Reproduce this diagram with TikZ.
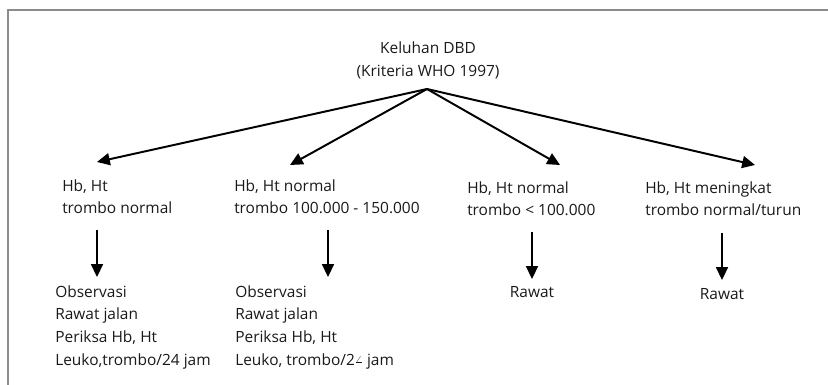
\documentclass[tikz,border=0pt]{standalone}
\usepackage{fontspec}
\setmainfont{Open Sans}
\usetikzlibrary{arrows.meta}

\begin{document}
\begin{tikzpicture}[every node/.style={inner sep=0pt, align=left, text=black!90, font=\fontsize{11}{16.2}\selectfont}]
%[line width=1pt]
\useasboundingbox (0,0) rectangle (20.7,-9.625);
\draw[black!45, line width=1.3pt] (0.2,-9.625) -- (0.2,-0.25) -- (20.7,-0.25);

\path (10.7,-1.5) node (K) [align=center] {Keluhan DBD\\(Kriteria WHO 1997)};
\coordinate (apex) at (10.675,-2.225);

\path (1.55,-4.475) node (B1) [anchor=north west] {Hb, Ht\\trombo normal};
\path (5.85,-4.475) node (B2) [anchor=north west] {Hb, Ht normal\\trombo 100.000 - 150.000};
\path (11.675,-4.525) node (B3) [anchor=north west] {Hb, Ht normal\\trombo < 100.000};
\path (16.125,-4.525) node (B4) [anchor=north west] {Hb, Ht meningkat\\trombo normal/turun};

\path (1.375,-7.125) node (C1) [anchor=north west] {Observasi\\Rawat jalan\\Periksa Hb, Ht\\Leuko,trombo/24 jam};
\path (5.875,-7.125) node (C2) [anchor=north west] {Observasi\\Rawat jalan\\Periksa Hb, Ht\\Leuko, trombo/2\raisebox{0.3ex}{\scriptsize$\angle$} jam};
\path (13.3,-7.15) node (C3) [anchor=north] {Rawat};
\path (18.05,-7.2) node (C4) [anchor=north] {Rawat};

% arrow tips above the second row
\coordinate (t1) at (2.425,-4.05);
\coordinate (t2) at (7.25,-4.125);
\coordinate (t3) at (14.0,-4.125);
\coordinate (t4) at (18.875,-4.125);

\draw[line width=1.4pt, -{Triangle[length=3.2mm,width=3mm]}] (apex) -- (t1);
\draw[line width=1.4pt, -{Triangle[length=3.2mm,width=3mm]}] (apex) -- (t2);
\draw[line width=1.4pt, -{Triangle[length=3.2mm,width=3mm]}] (apex) -- (t3);
\draw[line width=1.4pt, -{Triangle[length=3.2mm,width=3mm]}] (apex) -- (t4);

% down arrows
\coordinate (v1) at (2.425,-5.75);
\coordinate (w1) at (2.425,-6.925);
\coordinate (v2) at (8.2,-5.75);
\coordinate (w2) at (8.2,-6.925);
\coordinate (v3) at (13.3,-5.8);
\coordinate (w3) at (13.3,-6.975);
\coordinate (v4) at (18.05,-5.825);
\coordinate (w4) at (18.05,-7.0);

\draw[line width=1pt, -{Triangle[length=3.2mm,width=3mm]}] (v1) -- (w1);
\draw[line width=1pt, -{Triangle[length=3.2mm,width=3mm]}] (v2) -- (w2);
\draw[line width=1pt, -{Triangle[length=3.2mm,width=3mm]}] (v3) -- (w3);
\draw[line width=1pt, -{Triangle[length=3.2mm,width=3mm]}] (v4) -- (w4);

\end{tikzpicture}
\end{document}
